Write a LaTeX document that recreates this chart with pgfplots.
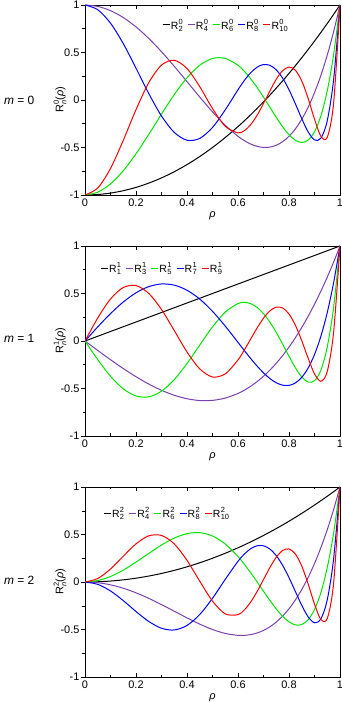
\documentclass[border=0pt]{standalone}
\usepackage{fontspec}
\setmainfont{Liberation Sans}
\usepackage{pgfplots}
\usepackage{pgfplotstable}
\pgfplotsset{compat=1.18}
\definecolor{cPurple}{HTML}{7A40B0}
\definecolor{cGreen}{HTML}{00E600}
\definecolor{cBlue}{HTML}{0000FF}
\definecolor{cRed}{HTML}{FF0000}

% R with superscript m and subscript n
\newcommand{\Rsym}[2]{R\kern0.3pt\rlap{\raisebox{0.8ex}{\fontsize{7.5}{8}\selectfont #1}}\raisebox{-0.5ex}{\fontsize{7.5}{8}\selectfont #2}}

% m = 0 : R_n^0
\pgfplotstableread{
rho r2 r4 r6 r8 r10
0 -1 1 -1 1 -1
0.05 -0.995 0.98504 -0.97019 0.95056 -0.92630
0.1 -0.98 0.9406 -0.88298 0.80886 -0.72045
0.15 -0.955 0.86804 -0.74496 0.59399 -0.42510
0.2 -0.92 0.7696 -0.56672 0.33521 -0.10173
0.25 -0.875 0.64844 -0.36230 0.06845 0.18203
0.3 -0.82 0.5086 -0.14842 -0.16847 0.36739
0.35 -0.755 0.35504 0.05658 -0.34103 0.41820
0.4 -0.68 0.1936 0.23392 -0.42356 0.33131
0.45 -0.595 0.03104 0.36589 -0.40426 0.14025
0.5 -0.5 -0.125 0.4375 -0.28906 -0.08984
0.55 -0.395 -0.26596 0.43843 -0.10359 -0.27709
0.6 -0.28 -0.3824 0.36512 0.10789 -0.34647
0.625 -0.21875 -0.42822 0.30196 0.20557 -0.32251
0.65 -0.155 -0.46396 0.22319 0.28743 -0.25875
0.675 -0.08875 -0.48819 0.13138 0.34573 -0.16033
0.7 -0.02 -0.4994 0.02998 0.3735 -0.03743
0.725 0.05125 -0.49606 -0.07654 0.36518 0.09492
0.75 0.125 -0.47656 -0.18262 0.31747 0.21753
0.775 0.20125 -0.43925 -0.28150 0.23029 0.30862
0.8 0.28 -0.3824 -0.36512 0.10789 0.34647
0.825 0.36125 -0.30425 -0.42402 -0.03987 0.31329
0.85 0.445 -0.20296 -0.44720 -0.19603 0.20074
0.875 0.53125 -0.07666 -0.42204 -0.33487 0.01741
0.9 0.62 0.0766 -0.33418 -0.42004 -0.20142
0.925 0.71125 0.25882 -0.16736 -0.40243 -0.38132
0.95 0.805 0.47204 0.09665 -0.21787 -0.39302
0.975 0.90125 0.71838 0.47824 0.21547 -0.03303
1 1 1 1 1 1
}\tabA

% m = 1 : R_n^1
\pgfplotstableread{
rho r1 r3 r5 r7 r9
0 0 0 0 0 0
0.05 0.05 -0.09963 0.14850 -0.19627 0.24257
0.1 0.1 -0.197 0.2881 -0.37060 0.44207
0.15 0.15 -0.28988 0.41026 -0.50325 0.56297
0.2 0.2 -0.376 0.5072 -0.57875 0.58368
0.25 0.25 -0.45313 0.57227 -0.58771 0.50097
0.3 0.3 -0.519 0.6003 -0.52815 0.33154
0.35 0.35 -0.57138 0.58802 -0.40636 0.11024
0.4 0.4 -0.608 0.5344 -0.23706 -0.11532
0.45 0.45 -0.62663 0.44103 -0.04263 -0.29334
0.5 0.5 -0.625 0.3125 0.14844 -0.37891
0.55 0.55 -0.60088 0.15678 0.30440 -0.34607
0.6 0.6 -0.552 -0.0144 0.39418 -0.19882
0.625 0.625 -0.51758 -0.10101 0.40602 -0.09355
0.65 0.65 -0.47613 -0.18521 0.39279 0.02207
0.675 0.675 -0.42736 -0.26429 0.35342 0.13764
0.7 0.7 -0.371 -0.3353 0.28820 0.24005
0.725 0.725 -0.30677 -0.39508 0.19906 0.31733
0.75 0.75 -0.23438 -0.43945 0.08991 0.35667
0.775 0.775 -0.15355 -0.46500 -0.03303 0.34769
0.8 0.8 -0.064 -0.4672 -0.16077 0.28398
0.825 0.825 0.03455 -0.44138 -0.28114 0.16571
0.85 0.85 0.14238 -0.38245 -0.37837 0.00277
0.875 0.875 0.25977 -0.28497 -0.43252 -0.18141
0.9 0.9 0.387 -0.1431 -0.41901 -0.34525
0.925 0.925 0.52436 0.04943 -0.30799 -0.42364
0.95 0.95 0.67213 0.29931 -0.06380 -0.32152
0.975 0.975 0.83058 0.61365 0.35576 0.09378
1 1 1 1 1 1
}\tabB

% m = 2 : R_n^2
\pgfplotstableread{
rho r2 r4 r6 r8 r10
0 0 0 0 0 0
0.05 0.0025 -0.00748 0.01488 -0.02463 0.03663
0.1 0.01 -0.0296 0.05802 -0.09410 0.13642
0.15 0.0225 -0.06548 0.12505 -0.19581 0.27128
0.2 0.04 -0.1136 0.20896 -0.31058 0.40161
0.25 0.0625 -0.17188 0.30054 -0.41541 0.48567
0.3 0.09 -0.2376 0.38894 -0.48687 0.49035
0.35 0.1225 -0.30748 0.46245 -0.50503 0.40100
0.4 0.16 -0.3776 0.50944 -0.45738 0.22804
0.45 0.2025 -0.44348 0.51943 -0.34236 0.00823
0.5 0.25 -0.5 0.48438 -0.17188 -0.20117
0.55 0.3025 -0.54148 0.40009 0.02782 -0.33578
0.6 0.36 -0.5616 0.26784 0.21771 -0.34396
0.625 0.390625 -0.56152 0.18606 0.29439 -0.29371
0.65 0.4225 -0.55348 0.09616 0.35080 -0.20996
0.675 0.455625 -0.53650 0.00064 0.38130 -0.09972
0.7 0.49 -0.5096 -0.09727 0.38114 0.02596
0.725 0.525625 -0.47175 -0.19358 0.34706 0.15203
0.75 0.5625 -0.42188 -0.28345 0.27795 0.26053
0.775 0.600625 -0.35887 -0.36112 0.17571 0.33196
0.8 0.64 -0.2816 -0.41984 0.04612 0.34789
0.825 0.680625 -0.18887 -0.45176 -0.09999 0.29455
0.85 0.7225 -0.07948 -0.44788 -0.24585 0.16782
0.875 0.765625 0.04785 -0.39795 -0.36676 -0.01946
0.9 0.81 0.1944 -0.29039 -0.42914 -0.23178
0.925 0.855625 0.36150 -0.11216 -0.38854 -0.39410
0.95 0.9025 0.55053 0.15125 -0.18773 -0.38392
0.975 0.950625 0.76288 0.51602 0.24535 -0.01153
1 1 1 1 1 1
}\tabC

\pgfplotsset{
  zpanel/.style={
    scale only axis, width=255bp, height=190bp, anchor=south west,
    xmin=0, xmax=1, ymin=-1, ymax=1,
    xtick={0,0.2,0.4,0.6,0.8,1}, xticklabels={0,0.2,0.4,0.6,0.8,1},
    ytick={-1,-0.5,0,0.5,1}, yticklabels={-1,-0.5,0,0.5,1},
    minor x tick num=1, minor y tick num=1,
    ytick pos=left,
    major tick length=4bp, minor tick length=2.5bp,
    major y tick style={xshift=-4bp}, minor y tick style={xshift=-2.5bp},
    tick style={black, line width=0.5pt},
    axis line style={line width=0.6pt},
    tick label style={font=\fontsize{11}{13}\selectfont},
    yticklabel style={xshift=-2bp},
    label style={font=\fontsize{11}{13}\selectfont},
    xlabel={\textit{ρ}},
    xlabel style={at={(axis description cs:0.5,-0.108)}, anchor=center},
    ylabel style={at={(axis description cs:-0.098,0.5)}, anchor=center},
    every axis plot/.append style={line width=1pt, smooth, no marks},
    legend style={draw=none, fill=none, anchor=center, legend columns=5,
      font=\fontsize{10.5}{12}\selectfont,
      nodes={inner sep=0.6bp},
      /tikz/every even column/.append style={column sep=4bp}},
    legend image code/.code={\draw[#1,line width=1pt] (0bp,0bp) -- (7bp,0bp);},
  }
}

\begin{document}
\begin{tikzpicture}
\useasboundingbox (0,0) rectangle (342bp,702bp);

\begin{axis}[zpanel, at={(85bp,507bp)},
  ylabel={\Rsym{0}{\textit{n}}(\textit{ρ})},
  legend style={at={(0.55,0.895)}}]
\addplot[black] table[x=rho,y=r2]{\tabA};
\addlegendentry{\Rsym{0}{2}}
\addplot[cPurple] table[x=rho,y=r4]{\tabA};
\addlegendentry{\Rsym{0}{4}}
\addplot[cGreen] table[x=rho,y=r6]{\tabA};
\addlegendentry{\Rsym{0}{6}}
\addplot[cBlue] table[x=rho,y=r8]{\tabA};
\addlegendentry{\Rsym{0}{8}}
\addplot[cRed] table[x=rho,y=r10]{\tabA};
\addlegendentry{\Rsym{0}{10}}
\end{axis}

% the reference draws R_7 in green and R_5 in blue, legend says the opposite
\begin{axis}[zpanel, at={(85bp,266bp)},
  ylabel={\Rsym{1}{\textit{n}}(\textit{ρ})},
  legend style={at={(0.30,0.884)}}]
\addplot[black] table[x=rho,y=r1]{\tabB};
\addlegendentry{\Rsym{1}{1}}
\addplot[cPurple] table[x=rho,y=r3]{\tabB};
\addlegendentry{\Rsym{1}{3}}
\addplot[cGreen] table[x=rho,y=r7]{\tabB};
\addlegendentry{\Rsym{1}{5}}
\addplot[cBlue] table[x=rho,y=r5]{\tabB};
\addlegendentry{\Rsym{1}{7}}
\addplot[cRed] table[x=rho,y=r9]{\tabB};
\addlegendentry{\Rsym{1}{9}}
\end{axis}

\begin{axis}[zpanel, at={(85bp,25bp)},
  ylabel={\Rsym{2}{\textit{n}}(\textit{ρ})},
  legend style={at={(0.32,0.863)}}]
\addplot[black] table[x=rho,y=r2]{\tabC};
\addlegendentry{\Rsym{2}{2}}
\addplot[cPurple] table[x=rho,y=r4]{\tabC};
\addlegendentry{\Rsym{2}{4}}
\addplot[cGreen] table[x=rho,y=r6]{\tabC};
\addlegendentry{\Rsym{2}{6}}
\addplot[cBlue] table[x=rho,y=r8]{\tabC};
\addlegendentry{\Rsym{2}{8}}
\addplot[cRed] table[x=rho,y=r10]{\tabC};
\addlegendentry{\Rsym{2}{10}}
\end{axis}

\node[anchor=west, font=\fontsize{12}{14}\selectfont] at (0.5bp,602bp) {\textit{m} = 0};
\node[anchor=west, font=\fontsize{12}{14}\selectfont] at (0.5bp,364bp) {\textit{m} = 1};
\node[anchor=west, font=\fontsize{12}{14}\selectfont] at (0.5bp,122bp) {\textit{m} = 2};
\end{tikzpicture}
\end{document}
